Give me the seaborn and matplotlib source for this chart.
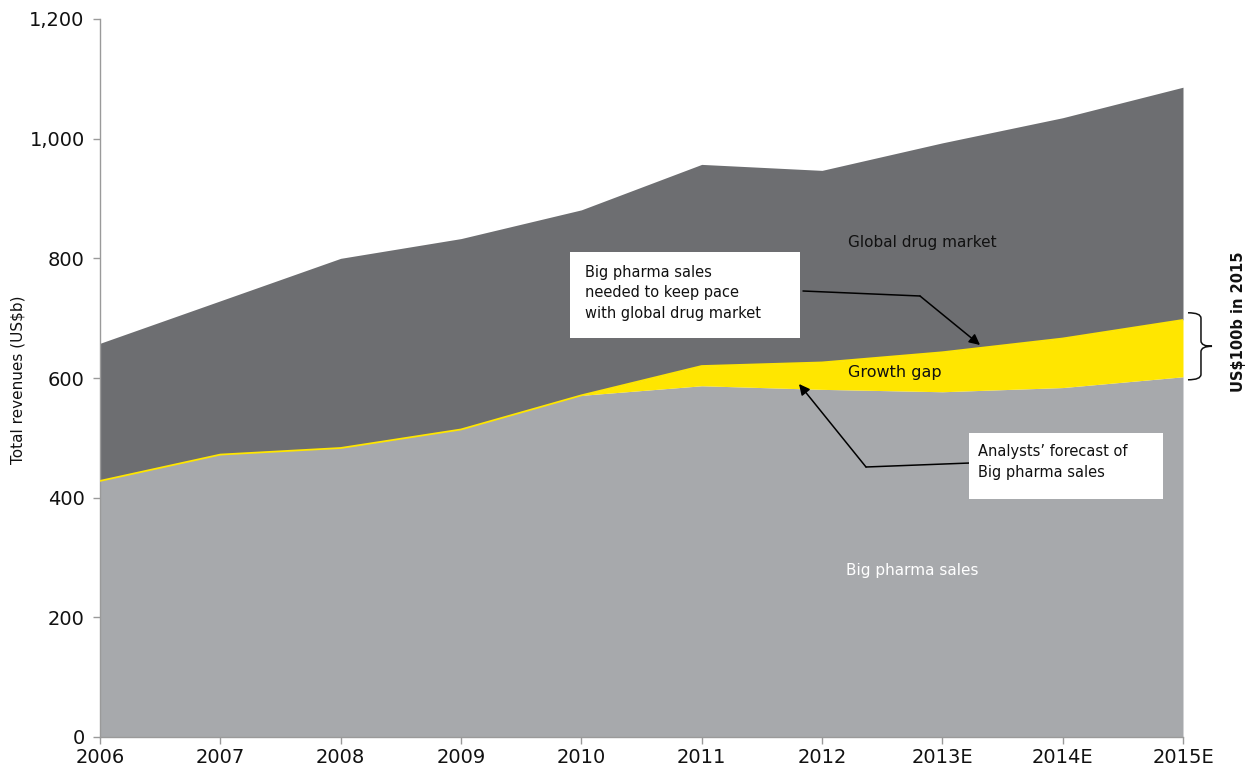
import matplotlib
matplotlib.use("Agg")
import matplotlib.pyplot as plt
import matplotlib.transforms as mtransforms
from matplotlib.patches import Rectangle, PathPatch
from matplotlib.path import Path
import numpy as np
import pandas as pd
import seaborn as sns

# Revenues in US$ billions
years = ["2006", "2007", "2008", "2009", "2010", "2011", "2012", "2013E", "2014E", "2015E"]
global_market = [658, 729, 800, 833, 881, 957, 947, 993, 1035, 1086]
pharma_needed = [428, 472, 483, 514, 571, 620, 626, 643, 666, 697]
pharma_forecast = [428, 472, 483, 514, 571, 587, 581, 577, 584, 602]
y_ticks = [0, 200, 400, 600, 800, 1000, 1200]

DARK = "#6d6e71"
LIGHT = "#a7a9ac"
YELLOW = "#ffe600"
AXIS_GREY = "#9a9a9a"

sns.set_theme(style="white")
plt.rcParams["font.family"] = ["DejaVu Sans"]

df = pd.DataFrame({
    "pos": np.arange(len(years)),
    "year": years,
    "global": global_market,
    "needed": pharma_needed,
    "forecast": pharma_forecast,
})

W, H = 1249, 770
fig = plt.figure(figsize=(W / 100, H / 100), dpi=100)
ax = fig.add_axes([100 / W, 1 - 737 / H, (1183 - 100) / W, (737 - 19) / H])

# stacked areas
ax.fill_between(df["pos"], 0, df["forecast"], color=LIGHT, linewidth=0, zorder=1)
ax.fill_between(df["pos"], df["needed"], df["global"], color=DARK, linewidth=0, zorder=1)
ax.fill_between(df["pos"], df["forecast"], df["needed"], color=YELLOW, linewidth=0, zorder=2)
sns.lineplot(data=df, x="pos", y="needed", color=YELLOW, linewidth=1.3, ax=ax, zorder=3)

ax.set_xlim(0, len(years) - 1)
ax.set_ylim(0, 1200)
ax.set_xticks(df["pos"])
ax.set_xticklabels(years)
ax.set_yticks(y_ticks)
ax.set_yticklabels([f"{v:,}" for v in y_ticks])
ax.set_xlabel("")
ax.set_ylabel("")
for side in ("top", "right"):
    ax.spines[side].set_visible(False)
for side in ("left", "bottom"):
    ax.spines[side].set_color(AXIS_GREY)
    ax.spines[side].set_linewidth(1.0)
ax.tick_params(axis="both", which="major", direction="out", length=5, width=1,
               color=AXIS_GREY, labelsize=14, labelcolor="#111111",
               bottom=True, left=True)
ax.tick_params(axis="y", pad=6)
ax.tick_params(axis="x", pad=3)

# pixel-space transform for layout elements (origin top-left)
px = mtransforms.Affine2D().scale(1 / W, -1 / H).translate(0, 1) + fig.transFigure

fig.text(18 / W, 1 - 380 / H, "Total revenues (US$b)", rotation=90,
         ha="center", va="center", fontsize=11, color="#111111")
fig.text(1238 / W, 1 - 322 / H, "US$100b in 2015", rotation=90,
         ha="center", va="center", fontsize=10.5, fontweight="bold", color="#111111")

# region labels
ax.text(848, 242, "Global drug market", transform=px, ha="left", va="center",
        fontsize=11, color="#111111", zorder=5)
ax.text(848, 373, "Growth gap", transform=px, ha="left", va="center",
        fontsize=11.5, color="#111111", zorder=5)
ax.text(846, 570, "Big pharma sales", transform=px, ha="left", va="center",
        fontsize=11, color="white", zorder=5)

# callout boxes
fig.add_artist(Rectangle((570, 252), 230, 86, transform=px, facecolor="white",
                         edgecolor="none", zorder=4))
fig.text(585, 293, "Big pharma sales\nneeded to keep pace\nwith global drug market",
         transform=px, ha="left", va="center", fontsize=10.5, linespacing=1.45,
         color="#111111", zorder=5)
fig.add_artist(Rectangle((969, 433), 194, 66, transform=px, facecolor="white",
                         edgecolor="none", zorder=4))
fig.text(978, 462, "Analysts\u2019 forecast of\nBig pharma sales",
         transform=px, ha="left", va="center", fontsize=10.5, linespacing=1.45,
         color="#111111", zorder=5)

# leader lines with arrowheads
ax.plot([803, 920], [291, 296], transform=px, color="black", lw=1.1, zorder=5,
        clip_on=False)
ax.annotate("", xy=(980, 345), xycoords=px, xytext=(920, 296), textcoords=px,
            arrowprops=dict(arrowstyle="-|>", color="black", lw=1.1,
                            mutation_scale=16, shrinkA=0, shrinkB=0), zorder=5)
ax.plot([970, 866], [463, 467], transform=px, color="black", lw=1.1, zorder=5,
        clip_on=False)
ax.annotate("", xy=(799, 384), xycoords=px, xytext=(866, 467), textcoords=px,
            arrowprops=dict(arrowstyle="-|>", color="black", lw=1.1,
                            mutation_scale=16, shrinkA=0, shrinkB=0), zorder=5)

# curly brace spanning the 2015 growth gap
bt = mtransforms.blended_transform_factory(ax.transAxes, ax.transData)
x0, x1, x2 = 1.0046, 1.0166, 1.0268
ytop = pharma_needed[-1] + 12
ybot = pharma_forecast[-1] - 5
ymid = (ytop + ybot) / 2
r = 9
verts = [(x0, ytop), (x1, ytop), (x1, ytop - r),
         (x1, ymid + r),
         (x1, ymid), (x2, ymid),
         (x1, ymid), (x1, ymid - r),
         (x1, ybot + r),
         (x1, ybot), (x0, ybot)]
codes = [Path.MOVETO, Path.CURVE3, Path.CURVE3,
         Path.LINETO,
         Path.CURVE3, Path.CURVE3,
         Path.CURVE3, Path.CURVE3,
         Path.LINETO,
         Path.CURVE3, Path.CURVE3]
ax.add_patch(PathPatch(Path(verts, codes), transform=bt, facecolor="none",
                       edgecolor="#111111", lw=1.1, clip_on=False))

fig.savefig("out.png", dpi=100)
